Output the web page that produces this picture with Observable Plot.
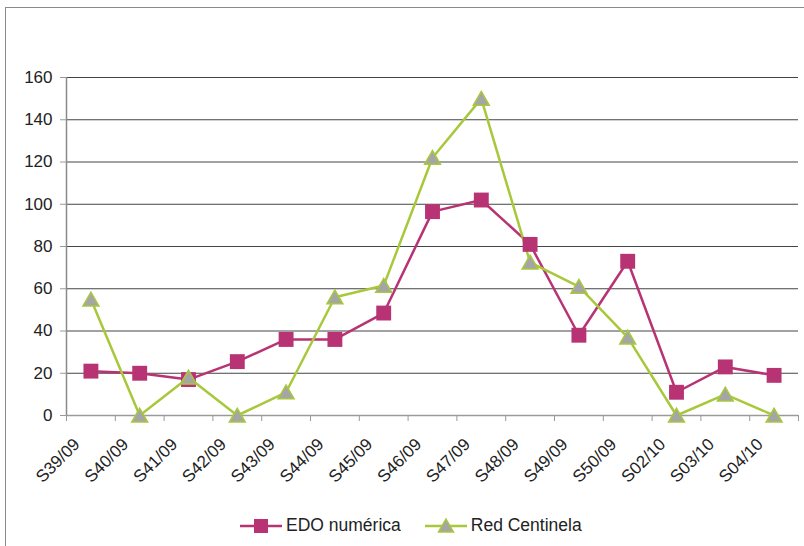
<!DOCTYPE html>
<html>
<head>
<meta charset="utf-8">
<script src="https://cdn.jsdelivr.net/npm/d3@7"></script>
<script src="https://cdn.jsdelivr.net/npm/@observablehq/plot@0.6"></script>
<style>
  html, body { margin: 0; padding: 0; background: #fff; }
  body { width: 804px; height: 546px; position: relative; overflow: hidden;
         font-family: "Liberation Sans", Arial, sans-serif; color: #222; }
  #frame { position: absolute; left: 5px; top: 7px; width: 820px; height: 560px;
           border-left: 1.5px solid #8a8a8a; border-top: 1.5px solid #8a8a8a; }
  #chart { position: absolute; left: 0; top: 0; }
  #legend { position: absolute; top: 515px; left: 240px; display: flex; align-items: center;
            font-size: 17.5px; }
  .item { display: flex; align-items: center; margin-right: 24px; }
  .item svg { margin-right: 4px; }
</style>
</head>
<body>
<div id="frame"></div>
<div id="chart"></div>
<div id="legend">
  <div class="item">
    <svg width="42" height="20"><line x1="0" y1="10" x2="42" y2="10" stroke="#b83373" stroke-width="2.5"/><rect x="14" y="3" width="14" height="14" fill="#b83373"/></svg>
    <span>EDO numérica</span>
  </div>
  <div class="item">
    <svg width="42" height="20"><line x1="0" y1="10" x2="42" y2="10" stroke="#a8c83c" stroke-width="2.5"/><path d="M21,3 L28.5,16 L13.5,16 Z" fill="#a5a5a5" stroke="#a8c83c" stroke-width="1.5"/></svg>
    <span>Red Centinela</span>
  </div>
</div>
<script>
const weeks = ["S39/09","S40/09","S41/09","S42/09","S43/09","S44/09","S45/09","S46/09","S47/09","S48/09","S49/09","S50/09","S02/10","S03/10","S04/10"];
const edo = [21, 20, 17, 25.5, 36, 36, 48.5, 96.5, 102, 81, 38, 73, 11, 23, 19];
const centinela = [55, 0, 18, 0, 11, 56, 61.5, 122, 150, 72.5, 61, 37, 0, 10, 0];
const yTicks = [0, 20, 40, 60, 80, 100, 120, 140, 160];

const rowsEdo = weeks.map((w, i) => ({i, week: w, value: edo[i]}));
const rowsCen = weeks.map((w, i) => ({i, week: w, value: centinela[i]}));
const boundaries = d3.range(weeks.length + 1).map(k => k - 0.5);

const magenta = "#b83373";
const green = "#a8c83c";

const chart = Plot.plot({
  width: 804,
  height: 500,
  marginLeft: 66,
  marginRight: 6,
  marginTop: 77,
  marginBottom: 85,
  style: {fontFamily: "Liberation Sans, Arial, sans-serif", fontSize: "16px", color: "#222", overflow: "visible"},
  x: {type: "linear", domain: [-0.5, weeks.length - 0.5], axis: null},
  y: {domain: [0, 160], axis: null},
  marks: [
    Plot.gridY(yTicks.slice(1), {stroke: "#444", strokeOpacity: 1, strokeWidth: 1}),
    Plot.ruleX([-0.5], {stroke: "#8a8a8a", strokeWidth: 1.5}),
    Plot.ruleY([0], {stroke: "#9a9a9a", strokeWidth: 1.5}),
    Plot.axisY({ticks: yTicks, tickSize: 6, tickPadding: 8, stroke: "#9a9a9a", fill: "#222", fontSize: 17, label: null}),
    Plot.axisX({ticks: boundaries, tickSize: 6, tickFormat: () => "", stroke: "#9a9a9a", label: null}),
    Plot.text(rowsEdo, {x: "i", y: 0, text: "week", rotate: -45, textAnchor: "end", dx: -14, dy: 26, fontSize: 17, fill: "#222"}),
    Plot.line(rowsEdo, {x: "i", y: "value", stroke: magenta, strokeWidth: 2.5}),
    Plot.line(rowsCen, {x: "i", y: "value", stroke: green, strokeWidth: 2.5}),
    Plot.dot(rowsEdo, {x: "i", y: "value", symbol: "square", r: 8.4, fill: magenta, stroke: "none"}),
    Plot.dot(rowsCen, {x: "i", y: "value", symbol: "triangle", r: 5.9, fill: "#a5a5a5", stroke: green, strokeWidth: 1.5, dy: 2})
  ]
});
document.getElementById("chart").appendChild(chart);
</script>
</body>
</html>
